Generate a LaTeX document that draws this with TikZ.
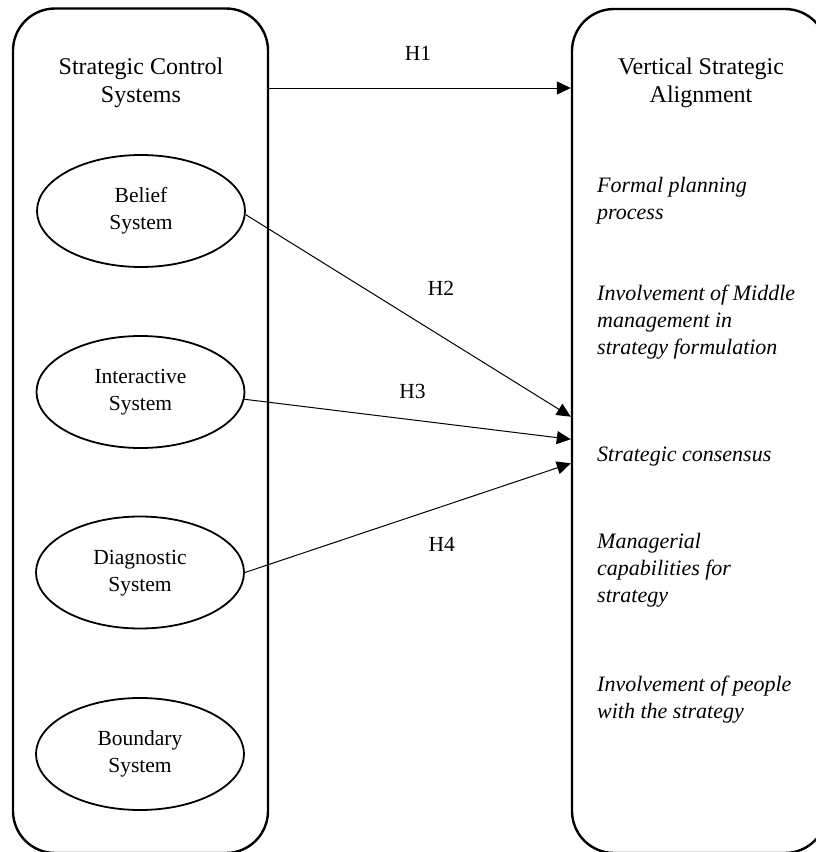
\documentclass[tikz,border=0pt]{standalone}
\usepackage{fontspec}
\setmainfont{Liberation Serif}
\usetikzlibrary{arrows.meta,shapes.geometric}
\tikzset{
 panel/.style={draw, line width=2.4pt, rounded corners=42pt, minimum width=255pt, inner sep=0pt},
 sysnode/.style={ellipse, draw, line width=1.8pt, minimum width=208pt, minimum height=112pt, inner sep=0pt, align=center, font=\fontsize{21.5}{27}\selectfont},
 titletext/.style={align=center, inner sep=0pt, font=\fontsize{24}{28}\selectfont},
 itemtext/.style={align=left, anchor=west, inner sep=0pt, font=\fontsize{22}{27}\selectfont\itshape},
 hlabel/.style={anchor=base, inner sep=0pt, font=\fontsize{21.5}{27}\selectfont},
 link/.style={line width=1pt, -{Triangle[length=14pt,width=13pt]}},
}
\begin{document}
\begin{tikzpicture}[x=1pt,y=-1pt]
\useasboundingbox (0,0) rectangle (816,852);
\clip (0,0) rectangle (816,852);
% panels
\node[panel, minimum height=844.5pt] (scs) at (140.5,430.75) {};
\node[panel, minimum height=844pt] (vsa) at (699.5,431) {};
% titles
\node[titletext] (scst) at (141,82.4) {\strut Strategic Control\\Systems\strut};
\node[titletext] (vsat) at (701,82.4) {\strut Vertical Strategic\\Alignment\strut};
% systems
\node[sysnode] (bel) at (141,211) {\strut Belief\\System\strut};
\node[sysnode] (int) at (140.5,392) {\strut Interactive\\System\strut};
\node[sysnode] (dia) at (140,572.5) {\strut Diagnostic\\System\strut};
\node[sysnode] (bou) at (140,754) {\strut Boundary\\System\strut};
% alignment items
\node[itemtext] (i1) at (597,200.1) {\strut Formal planning\\process\strut};
\node[itemtext] (i2) at (597,321.6) {\strut Involvement of Middle\\management in\\strategy formulation\strut};
\node[itemtext] (i3) at (597,455.6) {\strut Strategic consensus\strut};
\node[itemtext] (i4) at (597,569.6) {\strut Managerial\\capabilities for\\strategy\strut};
\node[itemtext] (i5) at (597,699.6) {\strut Involvement of people\\with the strategy\strut};
% arrow targets
\coordinate (t1) at (0,88);
\coordinate (t2) at (0,416.7);
\coordinate (t3) at (0,439.3);
\coordinate (t4) at (0,463.3);
% connectors
\draw[link] (scs.east |- t1) -- (vsa.west |- t1);
\draw[link] (bel.-2) -- (vsa.west |- t2);
\draw[link] (int.-4) -- (vsa.west |- t3);
\draw[link] (dia.east) -- (vsa.west |- t4);
% labels
\node[hlabel] (h1) at (418,60) {H1};
\node[hlabel] (h2) at (441,295) {H2};
\node[hlabel] (h3) at (412.5,398.3) {H3};
\node[hlabel] (h4) at (441.7,551.7) {H4};
\end{tikzpicture}
\end{document}
